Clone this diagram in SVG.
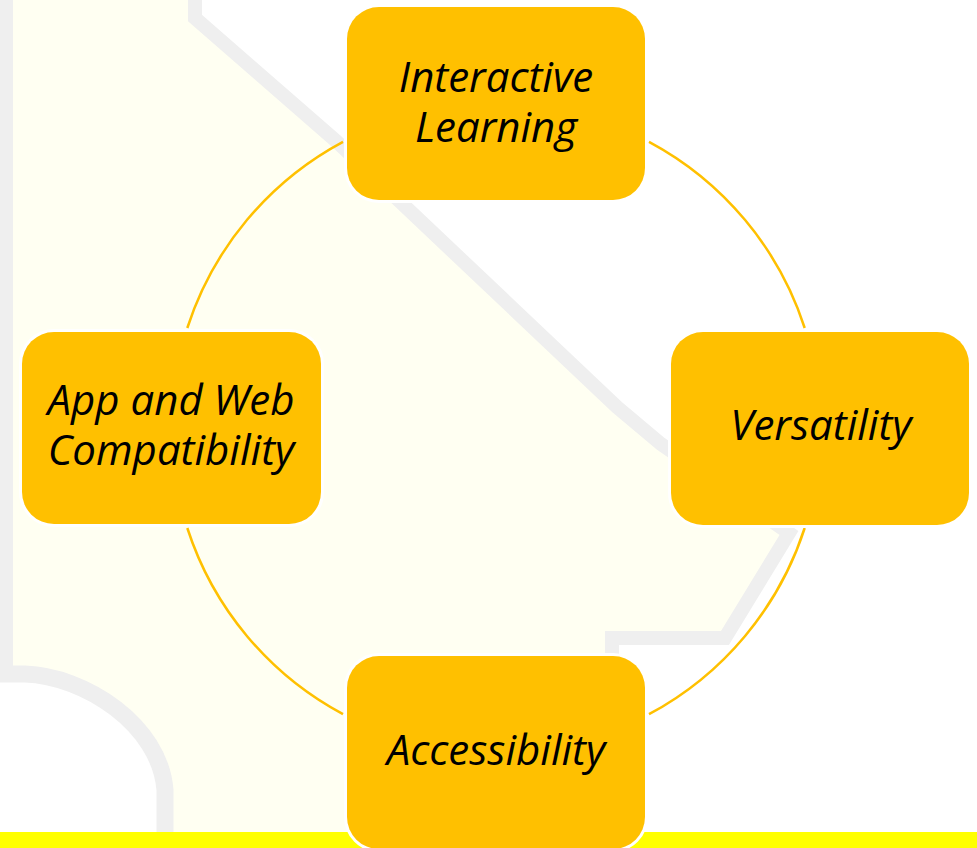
<svg xmlns="http://www.w3.org/2000/svg" width="977" height="848" viewBox="0 0 977 848">
<style>
.band{fill:none;stroke:#EFEFEF;stroke-linejoin:miter}
.node rect{fill:#FFC000;stroke:#FFFFFF;stroke-width:6;paint-order:stroke}
.node text{font-family:"Open Sans",Lato,sans-serif;font-style:italic;font-size:42px;fill:#000000;text-anchor:middle;font-variant-ligatures:none}
.arc{fill:none;stroke:#FFC000;stroke-width:2.5}
</style>
<g id="background">
<rect x="0" y="0" width="977" height="848" fill="#FFFFFF"/>
<path d="M13,0 L196,0 L196,18 L336,141 L617,407 L661,444 L790,533 L725,636 L612,638 L612,832 L165,832 L165,790 C160,730 85,676 25,674 L13,674 Z" fill="#FFFFF2"/>
<path class="band" stroke-width="13" d="M6.5,0 L6.5,674"/>
<path class="band" stroke-width="17" d="M0,674 L25,674 C85,676 160,725 165,790 L165,834"/>
<path class="band" stroke-width="14" d="M195,0 L195,18 L336,141 L617,407 L661,444 L789,533 L725,638 L612,638 L612,834"/>
<rect x="0" y="832" width="977" height="16" fill="#FFFF00"/>
</g>
<g id="connectors">
<path class="arc" d="M649,141.8 A324.5,324.5 0 0 1 804.7,328"/>
<path class="arc" d="M804.7,528 A324.5,324.5 0 0 1 649,714.2"/>
<path class="arc" d="M343,714.2 A324.5,324.5 0 0 1 187.3,528"/>
<path class="arc" d="M187.3,328 A324.5,324.5 0 0 1 343,141.8"/>
</g>
<g id="node-interactive-learning" class="node">
<rect x="347" y="7" width="298" height="193" rx="32" ry="32"/>
<text x="496" y="92">Interactive</text>
<text x="496" y="142">Learning</text>
</g>
<g id="node-versatility" class="node">
<rect x="671" y="332" width="298" height="193" rx="32" ry="32"/>
<text x="821" y="440">Versatility</text>
</g>
<g id="node-accessibility" class="node">
<rect x="347" y="656" width="298" height="193" rx="32" ry="32"/>
<text x="496" y="765">Accessibility</text>
</g>
<g id="node-app-web" class="node">
<rect x="22" y="332" width="299" height="192" rx="32" ry="32"/>
<text x="171" y="415">App and Web</text>
<text x="171" y="465">Compatibility</text>
</g>
</svg>
